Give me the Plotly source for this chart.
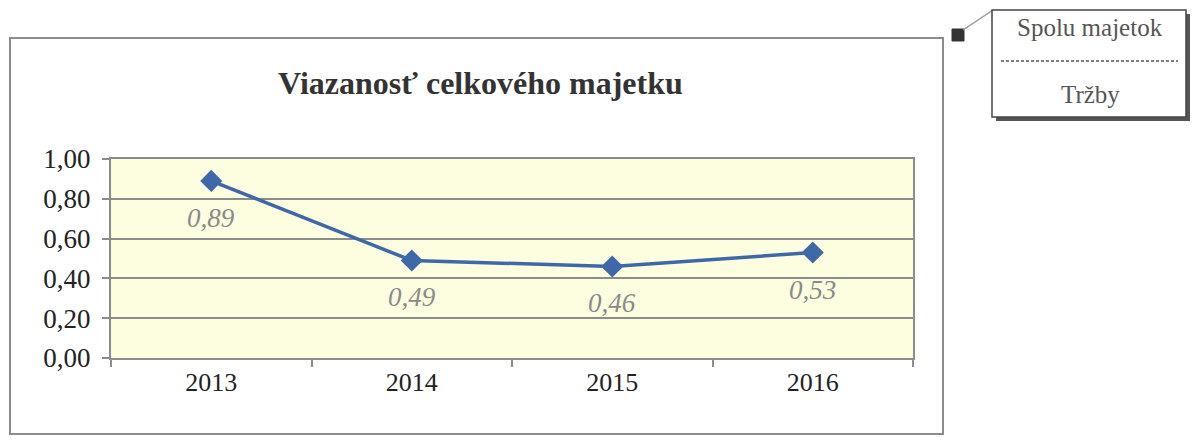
import plotly.graph_objects as go

years = ["2013", "2014", "2015", "2016"]
values = [0.89, 0.49, 0.46, 0.53]
value_labels = ["0,89", "0,49", "0,46", "0,53"]
y_ticks = [0.0, 0.2, 0.4, 0.6, 0.8, 1.0]
y_tick_labels = ["0,00", "0,20", "0,40", "0,60", "0,80", "1,00"]
title_text = "Viazanosť celkového majetku"
callout_top = "Spolu majetok"
callout_bottom = "Tržby"

OFF = 8  # page body margin
W, H = 1199 - 2 * OFF, 443 - 2 * OFF
# plot area in screen pixels
L, R, T, B = 111, 913, 159, 358


def px(x):
    return (x - L) / (R - L)


def py(y):
    return (B - y) / (B - T)


FONT = "Liberation Serif, Times New Roman, serif"
LINE_BLUE = "#3f68a9"

fig = go.Figure()
fig.add_trace(go.Scatter(
    x=years, y=values, mode="lines+markers",
    line=dict(color=LINE_BLUE, width=3.5),
    marker=dict(symbol="diamond", size=17, color=LINE_BLUE),
    hoverinfo="skip", showlegend=False,
))

for i, (v, lab) in enumerate(zip(values, value_labels)):
    fig.add_annotation(x=i, y=v, text="<i>" + lab + "</i>", showarrow=False,
                       yshift=-37,
                       font=dict(family=FONT, size=27, color="#8a8a8a"),
                       xanchor="center", yanchor="middle")

fig.add_annotation(xref="paper", yref="paper", x=px(480), y=py(83),
                   text="<b>" + title_text + "</b>", showarrow=False,
                   font=dict(family=FONT, size=32, color="#333333"),
                   xanchor="center", yanchor="middle")

shapes = []
shapes.append(dict(type="rect", xref="paper", yref="paper",
                   x0=px(10), x1=px(943), y0=py(434), y1=py(38),
                   line=dict(color="#8c8c8c", width=2), layer="below"))
shapes.append(dict(type="rect", xref="paper", yref="paper",
                   x0=px(952), x1=px(964), y0=py(41), y1=py(29),
                   line=dict(color="#333333", width=1), fillcolor="#333333"))
shapes.append(dict(type="line", xref="paper", yref="paper",
                   x0=px(963), y0=py(30), x1=px(993), y1=py(10),
                   line=dict(color="#9a9a9a", width=1.5)))
shapes.append(dict(type="rect", xref="paper", yref="paper",
                   x0=px(996), x1=px(1190), y0=py(121), y1=py(14),
                   line=dict(width=0), fillcolor="#555555"))
shapes.append(dict(type="rect", xref="paper", yref="paper",
                   x0=px(992), x1=px(1186), y0=py(117), y1=py(10),
                   line=dict(color="#444444", width=1.5), fillcolor="white"))
shapes.append(dict(type="line", xref="paper", yref="paper",
                   x0=px(1001), y0=py(61), x1=px(1178), y1=py(61),
                   line=dict(color="#555555", width=1.5, dash="3px,2px")))
fig.update_layout(shapes=shapes)

fig.add_annotation(xref="paper", yref="paper", x=px(1090), y=py(28),
                   text=callout_top, showarrow=False,
                   font=dict(family=FONT, size=25, color="#555555"),
                   xanchor="center", yanchor="middle")
fig.add_annotation(xref="paper", yref="paper", x=px(1090), y=py(95),
                   text=callout_bottom, showarrow=False,
                   font=dict(family=FONT, size=25, color="#555555"),
                   xanchor="center", yanchor="middle")

fig.update_layout(
    width=W, height=H,
    margin=dict(l=L - OFF, r=(1199 - OFF) - R, t=T - OFF, b=(443 - OFF) - B, pad=0),
    paper_bgcolor="white",
    plot_bgcolor="#fdfde0",
    font=dict(family=FONT, color="#222222"),
    xaxis=dict(
        type="category", range=[-0.5, 3.5],
        tickson="boundaries", ticks="outside", ticklen=7, tickwidth=1.5,
        tickcolor="#8c8c8c", showgrid=False,
        showline=True, linecolor="#8c8c8c", linewidth=2, mirror=True,
        tickfont=dict(family=FONT, size=26, color="#222222"),
        fixedrange=True,
    ),
    yaxis=dict(
        range=[0, 1], tickvals=y_ticks, ticktext=y_tick_labels,
        ticks="outside", ticklen=7, tickwidth=1.5, tickcolor="#8c8c8c",
        ticklabelstandoff=6,
        showgrid=True, gridcolor="#8c8c8c", gridwidth=1.5,
        showline=True, linecolor="#8c8c8c", linewidth=2, mirror=True,
        zeroline=False,
        tickfont=dict(family=FONT, size=27, color="#222222"),
        fixedrange=True,
    ),
)

fig.write_html("out.html")
